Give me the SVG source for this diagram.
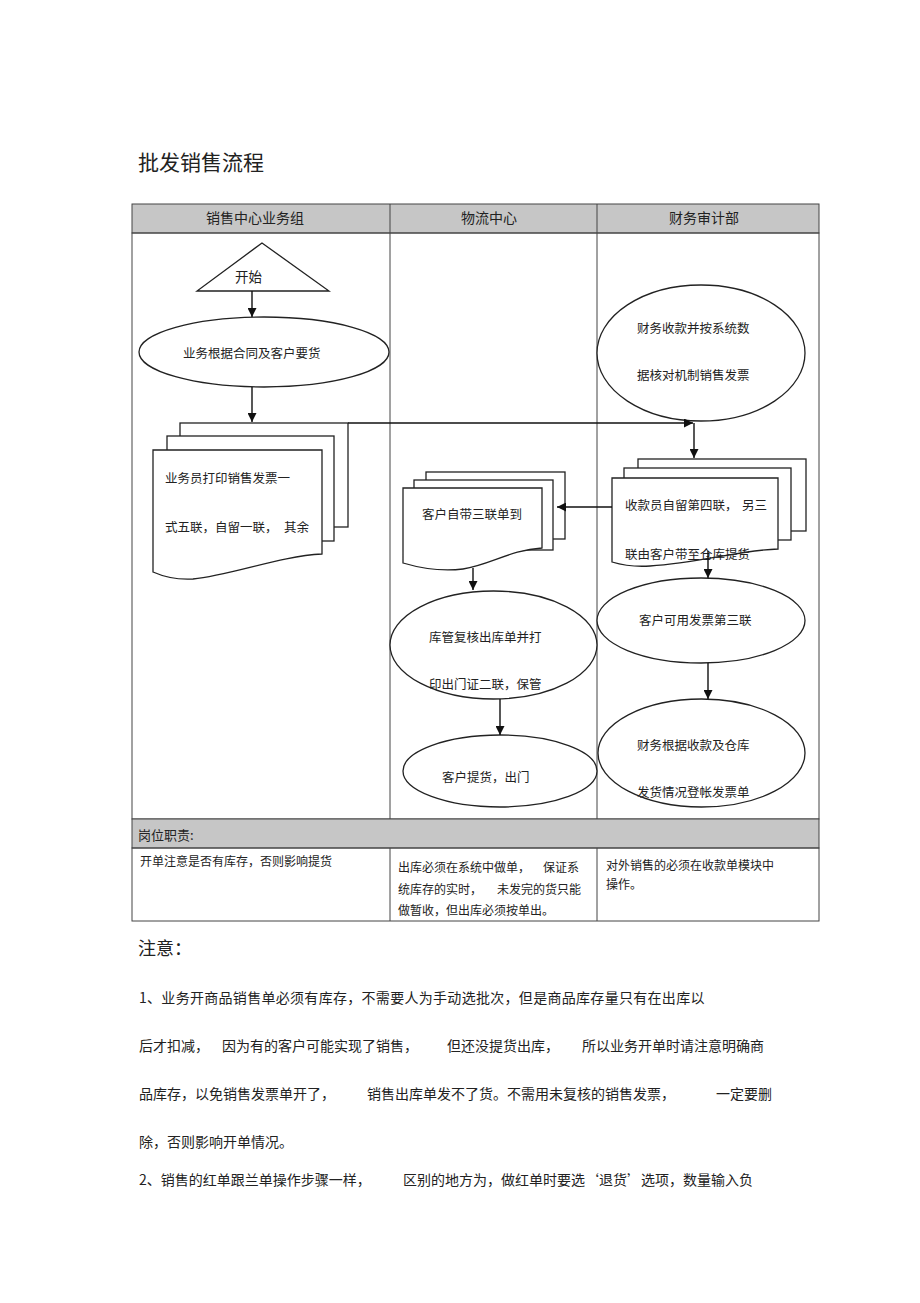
<svg xmlns="http://www.w3.org/2000/svg" width="920" height="1303" viewBox="0 0 920 1303">
<style>
text{font-family:"Noto Sans CJK SC","Liberation Sans",sans-serif;fill:#222}
.t{font-size:12.5px}
.h{font-size:14px;text-anchor:middle}
.c{font-size:12px}
.n{font-size:14px}
.tbl{fill:none;stroke:#444;stroke-width:1}
.gray{fill:#c6c6c6;stroke:#444;stroke-width:1}
.shp{fill:#fff;stroke:#222;stroke-width:1.3}
.con{fill:none;stroke:#111;stroke-width:1.4}
</style>
<defs>
<marker id="ah" viewBox="0 0 10 10" refX="10" refY="5" markerWidth="9" markerHeight="9" markerUnits="userSpaceOnUse" orient="auto">
<path d="M0,0 L10,5 L0,10 z" fill="#111"/>
</marker>
</defs>
<rect width="920" height="1303" fill="#fff"/>
<text x="138" y="170" style="font-size:21px">批发销售流程</text>

<g id="table">
<rect class="gray" x="132" y="204" width="687" height="29"/>
<rect class="tbl" x="132" y="233" width="687" height="586"/>
<line class="tbl" x1="390" y1="204" x2="390" y2="819"/>
<line class="tbl" x1="597" y1="204" x2="597" y2="819"/>
<rect class="gray" x="132" y="819" width="687" height="29"/>
<rect class="tbl" x="132" y="848" width="687" height="73"/>
<line class="tbl" x1="390" y1="848" x2="390" y2="921"/>
<line class="tbl" x1="597" y1="848" x2="597" y2="921"/>
<text class="h" x="255" y="223">销售中心业务组</text>
<text class="h" x="489" y="223">物流中心</text>
<text class="h" x="704" y="223">财务审计部</text>
<text x="138" y="840" style="font-size:13px">岗位职责:</text>
<text class="c" x="140" y="866">开单注意是否有库存，否则影响提货</text>
<text class="c" x="398" y="872">出库必须在系统中做单，</text>
<text class="c" x="543" y="872">保证系</text>
<text class="c" x="398" y="894">统库存的实时，</text>
<text class="c" x="497" y="894">未发完的货只能</text>
<text class="c" x="398" y="915">做暂收，但出库必须按单出。</text>
<text class="c" x="606" y="870">对外销售的必须在收款单模块中</text>
<text class="c" x="606" y="889">操作。</text>
</g>

<g id="start">
<polygon class="shp" points="262,243 197,291 329,291"/>
<text x="235" y="282" style="font-size:13.5px">开始</text>
</g>

<g id="n1">
<ellipse class="shp" cx="264" cy="352" rx="125" ry="35"/>
<text class="t" x="183" y="358">业务根据合同及客户要货</text>
</g>

<g id="n2">
<rect class="shp" x="180" y="423" width="168" height="104"/>
<rect class="shp" x="167" y="436" width="167" height="105"/>
<path class="shp" d="M153,450 H322 V554 C280,556 232,575 193,579 C175,580 162,576 153,572 Z"/>
<text class="t" x="165" y="483">业务员打印销售发票一</text>
<text class="t" x="165" y="532">式五联，自留一联，</text>
<text class="t" x="284" y="532">其余</text>
</g>

<g id="n3">
<ellipse class="shp" cx="701" cy="353" rx="104" ry="68"/>
<text class="t" x="637" y="333">财务收款并按系统数</text>
<text class="t" x="637" y="380">据核对机制销售发票</text>
</g>

<g id="n4">
<rect class="shp" x="638" y="459" width="168" height="72"/>
<rect class="shp" x="624" y="468" width="167" height="72"/>
<path class="shp" d="M612,478 H778 V549 C740,550 700,563 650,566 C635,567 622,565 612,562 Z"/>
<text class="t" x="625" y="510">收款员自留第四联，</text>
<text class="t" x="742" y="510">另三</text>
<text class="t" x="625" y="559">联由客户带至仓库提货</text>
</g>

<g id="n5">
<rect class="shp" x="426" y="472" width="139" height="67"/>
<rect class="shp" x="414" y="480" width="139" height="70"/>
<path class="shp" d="M403,488 H542 V548 C510,550 490,565 463,569 C440,572 420,568 403,563 Z"/>
<text class="t" x="422" y="519">客户自带三联单到</text>
</g>

<g id="n6">
<ellipse class="shp" cx="493.5" cy="645" rx="103.5" ry="54"/>
<text class="t" x="429" y="642">库管复核出库单并打</text>
<text class="t" x="429" y="689">印出门证二联，保管</text>
</g>

<g id="n7">
<ellipse class="shp" cx="500" cy="771" rx="97" ry="36"/>
<text class="t" x="442" y="782">客户提货，出门</text>
</g>

<g id="n8">
<ellipse class="shp" cx="701" cy="620.5" rx="104" ry="42.5"/>
<text class="t" x="639" y="625">客户可用发票第三联</text>
</g>

<g id="n9">
<ellipse class="shp" cx="701.5" cy="753" rx="103.5" ry="54"/>
<text class="t" x="637" y="750">财务根据收款及仓库</text>
<text class="t" x="637" y="797">发货情况登帐发票单</text>
</g>

<g id="connectors">
<line class="con" x1="252" y1="291" x2="252" y2="317" marker-end="url(#ah)"/>
<line class="con" x1="252" y1="387" x2="252" y2="422" marker-end="url(#ah)"/>
<line class="con" x1="348" y1="423" x2="693" y2="423" marker-end="url(#ah)"/>
<line class="con" x1="694" y1="423" x2="694" y2="458" marker-end="url(#ah)"/>
<line class="con" x1="612" y1="507" x2="557" y2="507" marker-end="url(#ah)"/>
<line class="con" x1="473" y1="568" x2="473" y2="590" marker-end="url(#ah)"/>
<line class="con" x1="500" y1="699" x2="500" y2="735" marker-end="url(#ah)"/>
<line class="con" x1="708" y1="551" x2="708" y2="578" marker-end="url(#ah)"/>
<line class="con" x1="708" y1="663" x2="708" y2="699" marker-end="url(#ah)"/>
</g>

<g id="notes">
<text x="138" y="955" style="font-size:18px">注意：</text>
<text class="n" x="139" y="1003" style="letter-spacing:0.3px">1、业务开商品销售单必须有库存，不需要人为手动选批次，但是商品库存量只有在出库以</text>
<text class="n" x="139" y="1051">后才扣减，</text>
<text class="n" x="222" y="1051">因为有的客户可能实现了销售，</text>
<text class="n" x="447" y="1051">但还没提货出库，</text>
<text class="n" x="582" y="1051">所以业务开单时请注意明确商</text>
<text class="n" x="139" y="1099">品库存，以免销售发票单开了，</text>
<text class="n" x="367" y="1099">销售出库单发不了货。不需用未复核的销售发票，</text>
<text class="n" x="716" y="1099">一定要删</text>
<text class="n" x="139" y="1147">除，否则影响开单情况。</text>
<text class="n" x="139" y="1185">2、销售的红单跟兰单操作步骤一样，</text>
<text class="n" x="403" y="1185">区别的地方为，做红单时要选‘退货’选项，数量输入负</text>
</g>
</svg>
